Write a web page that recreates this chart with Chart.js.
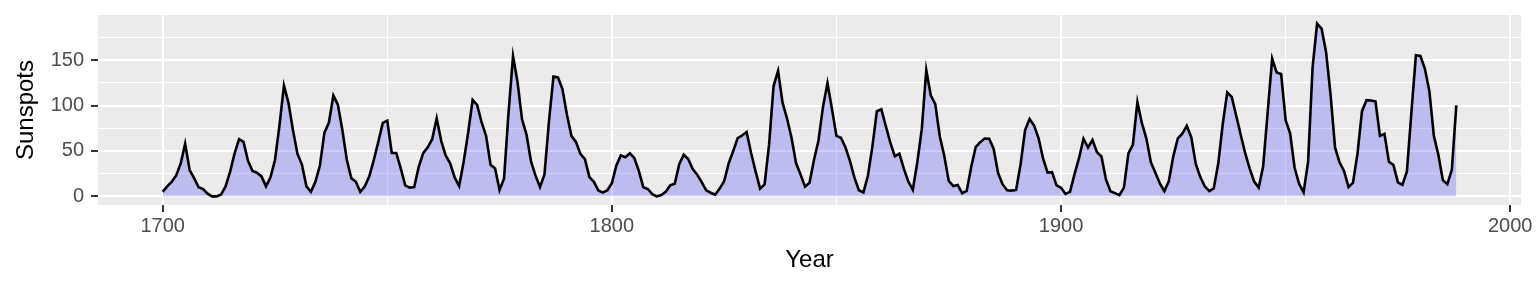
<!DOCTYPE html>
<html>
<head>
<meta charset="utf-8">
<script src="https://cdn.jsdelivr.net/npm/chart.js@4"></script>
<style>
  html, body { margin: 0; padding: 0; background: #fff; }
  #wrap { width: 1536px; height: 288px; position: relative; }
</style>
</head>
<body>
<div id="wrap"><canvas id="sunChart"></canvas></div>
<script>
// yearly sunspot numbers, 1700-1988
const startYear = 1700;
const sunspots = [
  5.0, 11.0, 16.0, 23.0, 36.0, 58.0, 29.0, 20.0, 10.0, 8.0,
  3.0, 0.0, 0.0, 2.0, 11.0, 27.0, 47.0, 63.0, 60.0, 39.0,
  28.0, 26.0, 22.0, 11.0, 21.0, 40.0, 78.0, 122.0, 103.0, 73.0,
  47.0, 35.0, 11.0, 5.0, 16.0, 34.0, 70.0, 81.0, 111.0, 101.0,
  73.0, 40.0, 20.0, 16.0, 5.0, 11.0, 22.0, 40.0, 60.0, 80.9,
  83.4, 47.7, 47.8, 30.7, 12.2, 9.6, 10.2, 32.4, 47.6, 54.0,
  62.9, 85.9, 61.2, 45.1, 36.4, 20.9, 11.4, 37.8, 69.8, 106.1,
  100.8, 81.6, 66.5, 34.8, 30.6, 7.0, 19.8, 92.5, 154.4, 125.9,
  84.8, 68.1, 38.5, 22.8, 10.2, 24.1, 82.9, 132.0, 130.9, 118.1,
  89.9, 66.6, 60.0, 46.9, 41.0, 21.3, 16.0, 6.4, 4.1, 6.8,
  14.5, 34.0, 45.0, 43.1, 47.5, 42.2, 28.1, 10.1, 8.1, 2.5,
  0.0, 1.4, 5.0, 12.2, 13.9, 35.4, 45.8, 41.1, 30.1, 23.9,
  15.6, 6.6, 4.0, 1.8, 8.5, 16.6, 36.3, 49.6, 64.2, 67.0,
  70.9, 47.8, 27.5, 8.5, 13.2, 56.9, 121.5, 138.3, 103.2, 85.7,
  64.6, 36.7, 24.2, 10.7, 15.0, 40.1, 61.5, 98.5, 124.7, 96.3,
  66.6, 64.5, 54.1, 39.0, 20.6, 6.7, 4.3, 22.7, 54.8, 93.8,
  95.8, 77.2, 59.1, 44.0, 47.0, 30.5, 16.3, 7.3, 37.6, 74.0,
  139.0, 111.2, 101.6, 66.2, 44.7, 17.0, 11.3, 12.4, 3.4, 6.0,
  32.3, 54.3, 59.7, 63.7, 63.5, 52.2, 25.4, 13.1, 6.8, 6.3,
  7.1, 35.6, 73.0, 85.1, 78.0, 64.0, 41.8, 26.2, 26.7, 12.1,
  9.5, 2.7, 5.0, 24.4, 42.0, 63.5, 53.8, 62.0, 48.5, 43.9,
  18.6, 5.7, 3.6, 1.4, 9.6, 47.4, 57.1, 103.9, 80.6, 63.6,
  37.6, 26.1, 14.2, 5.8, 16.7, 44.3, 63.9, 69.0, 77.8, 64.9,
  35.7, 21.2, 11.1, 5.7, 8.7, 36.1, 79.7, 114.4, 109.6, 88.8,
  67.8, 47.5, 30.6, 16.3, 9.6, 33.2, 92.6, 151.6, 136.3, 134.7,
  83.9, 69.4, 31.5, 13.9, 4.4, 38.0, 141.7, 190.2, 184.8, 159.0,
  112.3, 53.9, 37.5, 27.9, 10.2, 15.1, 47.0, 93.8, 105.9, 105.5,
  104.5, 66.6, 68.9, 38.0, 34.5, 15.5, 12.6, 27.5, 92.5, 155.4,
  154.6, 140.5, 115.9, 66.6, 45.9, 17.9, 13.4, 29.2, 100.2
];
const years = sunspots.map((_, i) => startYear + i);

// major ticks get labels, minor ones only a grid line
const xMajor = [1700, 1800, 1900, 2000];
const xMinor = [1750, 1850, 1950];
const yMajor = [0, 50, 100, 150];
const yMinor = [25, 75, 125, 175];

const tickFont = { family: "'Liberation Sans', Arial, sans-serif", size: 20 };
const titleFont = { family: "'Liberation Sans', Arial, sans-serif", size: 24 };

// grey panel behind the grid (ggplot look)
const panelBg = {
  id: "panelBg",
  beforeDraw(chart) {
    const { ctx, chartArea: a } = chart;
    ctx.save();
    ctx.fillStyle = "#EBEBEB";
    ctx.fillRect(a.left, a.top, a.right - a.left, a.bottom - a.top);
    ctx.restore();
  }
};

const isMajor = (v, list) => list.includes(v);

// fixed axis box, no extra room for overhanging labels
const fixBox = (s, w, h) => {
  if (w != null) s.width = w;
  if (h != null) s.height = h;
  s.paddingLeft = 0;
  s.paddingRight = 0;
  s.paddingTop = 0;
  s.paddingBottom = 0;
};

new Chart(document.getElementById("sunChart"), {
  type: "line",
  data: {
    datasets: [{
      data: years.map((y, i) => ({ x: y, y: sunspots[i] })),
      borderColor: "#000000",
      borderWidth: 2.6,
      backgroundColor: "rgba(0,0,255,0.2)",
      fill: "origin",
      pointRadius: 0,
      tension: 0
    }]
  },
  options: {
    responsive: true,
    maintainAspectRatio: false,
    animation: false,
    layout: { padding: { top: 15, right: 15, left: 0, bottom: 0 } },
    plugins: { legend: { display: false }, tooltip: { enabled: false } },
    scales: {
      x: {
        type: "linear",
        min: 1685.6,
        max: 2002.4,
        afterBuildTicks: s => { s.ticks = [...xMajor, ...xMinor].sort((a, b) => a - b).map(v => ({ value: v })); },
        afterFit: s => fixBox(s, null, 83),
        border: { display: false },
        grid: {
          color: "#FFFFFF",
          lineWidth: c => isMajor(c.tick.value, xMajor) ? 2 : 1,
          tickColor: c => isMajor(c.tick.value, xMajor) ? "#333333" : "rgba(0,0,0,0)",
          tickWidth: 2,
          tickLength: 7
        },
        ticks: {
          color: "#4D4D4D",
          font: tickFont,
          padding: 2,
          maxRotation: 0,
          autoSkip: false,
          callback: v => isMajor(v, xMajor) ? String(v) : ""
        },
        title: { display: true, text: "Year", color: "#000000", font: titleFont, padding: { top: 0, bottom: 13 } }
      },
      y: {
        min: -9.51,
        max: 199.7,
        afterBuildTicks: s => { s.ticks = [...yMajor, ...yMinor].sort((a, b) => a - b).map(v => ({ value: v })); },
        afterFit: s => fixBox(s, 98, null),
        border: { display: false },
        grid: {
          color: "#FFFFFF",
          lineWidth: c => isMajor(c.tick.value, yMajor) ? 2 : 1,
          tickColor: c => isMajor(c.tick.value, yMajor) ? "#333333" : "rgba(0,0,0,0)",
          tickWidth: 2,
          tickLength: 7
        },
        ticks: {
          color: "#4D4D4D",
          font: tickFont,
          padding: 7,
          autoSkip: false,
          callback: v => isMajor(v, yMajor) ? String(v) : ""
        },
        title: { display: true, text: "Sunspots", color: "#000000", font: titleFont, padding: { top: 12, bottom: 0 } }
      }
    }
  },
  plugins: [panelBg]
});
</script>
</body>
</html>
